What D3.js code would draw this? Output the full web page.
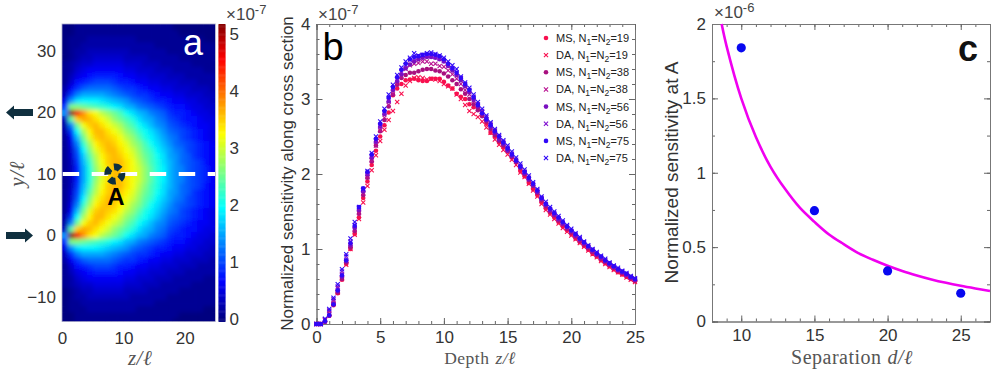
<!DOCTYPE html>
<html>
<head>
<meta charset="utf-8">
<script src="https://cdnjs.cloudflare.com/ajax/libs/d3/7.8.5/d3.min.js"></script>
<style>
  html, body { margin: 0; padding: 0; background: #fff; }
  text { font-family: "Liberation Sans", Arial, sans-serif; fill: #333; }
  .serif { font-family: "Liberation Serif", "DejaVu Serif", serif; fill: #555; }
  .tick text { font-size: 17px; }
  .domain { stroke: #777; }
  .tick line { stroke: #666; }
</style>
</head>
<body>
<div id="chart"></div>
<script type="text/javascript">
  const width = 997, height = 372;

  // panel a: sensitivity map, unit 1e-8, rows go outward from y=10, mirrored below
  const mapZ = [0.5,1.5,2.5,3.5,4.5,5.5,6.5,7.5,8.5,9.5,10.5,11.5,12.5,13.5,14.5,15.5,16.5,17.5,18.5,19.5,20.5,21.5,22.5,23.5,24.5];
  const mapRows = [
    [1,3,8,15,21,26,31,34,36,36,34,32,30,27,24,21,19,16,14,13,11,10,9,8,6],
    [1,3,8,15,21,27,31,34,36,36,34,32,30,27,24,21,19,16,14,13,11,10,9,8,6],
    [1,3,9,16,22,28,32,35,36,36,34,32,29,26,23,21,18,16,14,12,11,10,9,7,6],
    [1,4,10,17,24,29,33,35,36,35,33,31,28,25,23,20,18,15,14,12,11,9,8,7,6],
    [1,4,11,19,26,31,34,36,36,34,32,30,27,24,22,19,17,15,13,12,10,9,8,7,6],
    [1,5,13,22,28,33,35,36,35,33,31,28,26,23,20,18,16,14,12,11,10,9,8,7,6],
    [1,6,16,25,31,35,36,35,34,32,29,27,24,21,19,17,15,13,12,10,9,8,7,6,5],
    [2,9,20,28,33,36,36,34,32,30,27,25,22,20,18,16,14,12,11,10,9,8,7,6,5],
    [2,13,25,32,35,36,34,32,30,28,25,23,20,18,16,14,13,11,10,9,8,7,6,6,5],
    [3,24,35,37,36,34,32,30,27,25,23,21,18,16,15,13,12,10,9,8,7,7,6,5,5],
    [14,62,46,38,34,32,29,27,25,23,20,18,16,15,13,12,11,9,8,8,7,6,5,5,4],
    [9,26,26,25,24,23,22,21,19,18,16,15,13,12,11,10,9,8,7,7,6,5,5,4,4],
    [5,14,18,19,19,19,18,17,16,15,14,12,11,10,9,8,8,7,6,6,5,5,4,4,3],
    [3,9,13,15,15,15,15,14,13,12,11,10,9,9,8,7,6,6,5,5,4,4,4,3,3],
    [2,6,9,11,12,12,12,12,11,10,9,9,8,7,6,6,5,5,4,4,4,3,3,3,2],
    [1,4,7,8,9,10,10,10,9,8,8,7,6,6,5,5,4,4,4,3,3,3,2,2,2],
    [1,3,5,6,7,8,8,8,8,7,6,6,5,5,4,4,4,3,3,3,2,2,2,2,2],
    [1,2,4,5,6,6,6,6,6,6,5,5,4,4,4,3,3,3,2,2,2,2,2,1,1],
    [1,2,3,4,4,5,5,5,5,5,4,4,4,3,3,3,2,2,2,2,2,1,1,1,1],
    [0,1,2,3,3,4,4,4,4,4,3,3,3,3,2,2,2,2,2,1,1,1,1,1,1],
    [0,1,2,2,3,3,3,3,3,3,3,2,2,2,2,2,2,1,1,1,1,1,1,1,1],
    [0,1,1,2,2,2,2,2,2,2,2,2,2,2,2,1,1,1,1,1,1,1,1,1,1],
    [0,1,1,1,2,2,2,2,2,2,2,2,1,1,1,1,1,1,1,1,1,1,1,0,0],
    [0,0,1,1,1,1,1,1,1,1,1,1,1,1,1,1,1,1,1,0,0,0,0,0,0],
    [0,0,1,1,1,1,1,1,1,1,1,1,1,1,1,1,1,1,0,0,0,0,0,0,0]
  ];
  const jetStops = [0, 0.65, 1.95, 3.25, 4.55, 5.2];
  const jetColors = ['#000080', '#0000ff', '#00ffff', '#ffff00', '#ff0000', '#800000'];
  const colorbarTicks = [0, 1, 2, 3, 4, 5];

  // panel b: one value every 1/3 in depth, unit 1e-7
  const ms19 = [0,0,.03,.11,.25,.41,.59,.8,1,1.2,1.42,1.68,1.9,2.12,2.31,2.5,2.65,2.82,3.05,3.14,3.2,3.25,3.26,3.27,3.25,3.24,3.24,3.27,3.27,3.27,3.23,3.18,3.14,3.07,3.03,3,2.93,2.89,2.88,2.81,2.67,2.55,2.5,2.42,2.36,2.3,2.22,2.16,2.04,1.97,1.88,1.8,1.72,1.62,1.54,1.48,1.42,1.36,1.3,1.25,1.2,1.14,1.09,1.04,.99,.94,.9,.85,.81,.77,.73,.69,.66,.63,.6,.57];
  const da19 = [0,0,.05,.14,.27,.42,.6,.79,1,1.19,1.4,1.62,1.84,2.05,2.25,2.44,2.59,2.72,2.84,2.96,3.07,3.18,3.24,3.28,3.29,3.28,3.26,3.27,3.26,3.24,3.2,3.17,3.14,3.06,3,2.92,2.84,2.8,2.76,2.7,2.62,2.55,2.46,2.39,2.32,2.26,2.19,2.12,2.02,1.96,1.87,1.78,1.7,1.6,1.52,1.46,1.4,1.34,1.28,1.23,1.18,1.13,1.08,1.03,.98,.93,.89,.84,.8,.76,.72,.69,.66,.62,.59,.56];
  const ms38 = [0,0,.03,.11,.26,.42,.6,.82,1.02,1.24,1.47,1.72,1.95,2.17,2.38,2.57,2.72,2.9,3.06,3.19,3.28,3.32,3.35,3.35,3.37,3.39,3.4,3.4,3.38,3.37,3.34,3.3,3.25,3.2,3.13,3.07,3,2.93,2.85,2.77,2.7,2.6,2.52,2.44,2.38,2.32,2.23,2.16,2.08,2,1.92,1.84,1.75,1.65,1.57,1.5,1.45,1.38,1.33,1.27,1.22,1.17,1.11,1.06,1.01,.96,.92,.87,.83,.79,.75,.71,.68,.65,.61,.58];
  const da38 = [0,0,.06,.17,.31,.48,.66,.84,1.05,1.26,1.48,1.74,1.96,2.18,2.38,2.58,2.75,2.92,3.07,3.2,3.3,3.4,3.45,3.47,3.48,3.5,3.5,3.47,3.47,3.44,3.43,3.38,3.33,3.27,3.2,3.12,3.06,2.98,2.9,2.82,2.73,2.65,2.57,2.48,2.41,2.33,2.25,2.17,2.09,2.02,1.93,1.85,1.76,1.66,1.58,1.51,1.45,1.39,1.33,1.28,1.23,1.17,1.12,1.07,1.02,.97,.92,.88,.83,.79,.75,.72,.68,.65,.62,.59];
  const ms56 = [0,0,.03,.11,.27,.44,.63,.84,1.05,1.28,1.52,1.77,2,2.22,2.43,2.63,2.8,2.97,3.12,3.24,3.33,3.41,3.46,3.5,3.53,3.55,3.56,3.56,3.55,3.53,3.5,3.44,3.38,3.32,3.25,3.17,3.09,2.99,2.9,2.81,2.72,2.63,2.55,2.46,2.4,2.31,2.24,2.17,2.09,2.01,1.93,1.85,1.76,1.67,1.59,1.52,1.46,1.4,1.34,1.29,1.24,1.18,1.13,1.08,1.03,.98,.93,.89,.84,.8,.76,.72,.69,.66,.62,.59];
  const da56 = [0,0,.06,.18,.33,.5,.7,.9,1.1,1.32,1.54,1.78,2,2.23,2.44,2.64,2.82,2.98,3.14,3.26,3.36,3.45,3.52,3.54,3.57,3.58,3.58,3.57,3.56,3.54,3.51,3.45,3.41,3.35,3.28,3.2,3.12,3.03,2.93,2.84,2.76,2.67,2.58,2.5,2.43,2.35,2.27,2.19,2.11,2.03,1.95,1.87,1.78,1.68,1.6,1.53,1.47,1.41,1.35,1.3,1.24,1.19,1.14,1.09,1.03,.99,.94,.89,.85,.81,.77,.73,.7,.66,.63,.6];
  const ms75 = [0,0,.04,.12,.26,.45,.65,.85,1.08,1.31,1.56,1.81,2.03,2.26,2.47,2.67,2.84,3.02,3.16,3.29,3.39,3.47,3.53,3.56,3.57,3.59,3.6,3.6,3.59,3.57,3.53,3.47,3.41,3.35,3.28,3.2,3.12,3.02,2.92,2.81,2.73,2.65,2.57,2.5,2.42,2.34,2.26,2.18,2.1,2.03,1.95,1.87,1.78,1.68,1.6,1.54,1.48,1.42,1.36,1.3,1.25,1.2,1.14,1.09,1.04,.99,.94,.9,.85,.81,.77,.73,.7,.67,.63,.6];
  const da75 = [0,0,.07,.2,.35,.53,.73,.93,1.14,1.36,1.56,1.8,2.04,2.28,2.5,2.7,2.87,3.06,3.19,3.32,3.42,3.5,3.55,3.61,3.58,3.59,3.61,3.62,3.6,3.58,3.55,3.5,3.45,3.4,3.3,3.22,3.15,3.06,2.96,2.87,2.78,2.69,2.6,2.52,2.45,2.38,2.3,2.22,2.14,2.06,1.98,1.89,1.8,1.7,1.63,1.56,1.5,1.44,1.38,1.32,1.27,1.21,1.16,1.1,1.05,1,.96,.91,.87,.82,.78,.75,.71,.68,.64,.61];
  const seriesNames = ['MS', 'DA', 'MS', 'DA', 'MS', 'DA', 'MS', 'DA'];
  const seriesN = [19, 19, 38, 38, 56, 56, 75, 75];
  const seriesValues = [ms19, da19, ms38, da38, ms56, da56, ms75, da75];
  const seriesColors = ['#f8104f', '#f8104f', '#a8107f', '#b81090', '#7a10c0', '#8010d0', '#3008f8', '#3008f8'];

  // panel c, unit 1e-6
  const pointD = [10, 15, 20, 25];
  const pointS = [1.84, 0.745, 0.34, 0.19];
  const curveD = [8.66,9,10,11,12,13,14,15,16,17,18,19,20,21,22,23,24,25,26,27];
  const curveS = [2,1.85,1.5,1.24,1.04,.89,.765,.67,.585,.52,.46,.415,.375,.34,.31,.283,.26,.24,.222,.205];

  const svg = d3.select('#chart').append('svg')
    .attr('width', width)
    .attr('height', height);

  const defs = svg.append('defs');
  defs.append('filter').attr('id', 'smooth')
    .attr('x', '-5%').attr('y', '-5%').attr('width', '110%').attr('height', '110%')
    .append('feGaussianBlur').attr('stdDeviation', 2.3);
  defs.append('clipPath').attr('id', 'clip_a').append('rect')
    .attr('x', 62).attr('y', 24).attr('width', 153).attr('height', 297.5);

  // draws the inward ticks of a boxed panel
  function box(x, y, xMajor, xMinor, yMajor, yMinor, yFormat) {
    const [x0, x1] = x.range(), [y0, y1] = y.range();
    const g = svg.append('g');
    g.append('g').attr('transform', `translate(0,${y0})`)
      .call(d3.axisBottom(x).tickValues(xMinor).tickSize(-3).tickFormat(''));
    g.append('g').attr('transform', `translate(0,${y1})`)
      .call(d3.axisTop(x).tickValues(xMinor).tickSize(-3).tickFormat(''));
    g.append('g').attr('transform', `translate(${x0},0)`)
      .call(d3.axisLeft(y).tickValues(yMinor).tickSize(-3).tickFormat(''));
    g.append('g').attr('transform', `translate(${x1},0)`)
      .call(d3.axisRight(y).tickValues(yMinor).tickSize(-3).tickFormat(''));
    g.append('g').attr('transform', `translate(0,${y0})`)
      .call(d3.axisBottom(x).tickValues(xMajor).tickSize(-6).tickPadding(7).tickFormat(d3.format('d')));
    g.append('g').attr('transform', `translate(${x0},0)`)
      .call(d3.axisLeft(y).tickValues(yMajor).tickSize(-6).tickPadding(6).tickFormat(yFormat));
    g.append('g').attr('transform', `translate(${x1},0)`)
      .call(d3.axisRight(y).tickValues(yMajor).tickSize(-6).tickFormat(''));
    g.append('g').attr('transform', `translate(0,${y1})`)
      .call(d3.axisTop(x).tickValues(xMajor).tickSize(-6).tickFormat(''));
    g.selectAll('.tick line').attr('stroke', '#666');
    return g;
  }

  function power(px, py, exp) {
    const t = svg.append('text').attr('x', px).attr('y', py).style('font-size', '17px').style('fill', '#444');
    t.append('tspan').text('\u00d710');
    t.append('tspan').attr('dy', -6).style('font-size', '13px').text(exp);
  }

  // z/ℓ style labels
  function mathLabel(px, py, plain, v, size, rotate) {
    const t = svg.append('text').attr('class', 'serif')
      .attr('text-anchor', 'middle').style('font-size', size + 'px').style('letter-spacing', '0.5px')
      .attr('transform', `translate(${px},${py})` + (rotate ? ' rotate(-90)' : ''));
    if (plain) t.append('tspan').text(plain);
    t.append('tspan').style('font-style', 'italic').attr('dx', plain ? 6 : 0).text(v + '/\u2113');
  }

  ////////////// panel a //////////////
  const xa = d3.scaleLinear().domain([0, 25]).range([62, 215.5]);
  const ya = d3.scaleLinear().domain([-14, 34.4]).range([321.5, 24]);
  const jet = d3.scaleLinear().domain(jetStops).range(jetColors).clamp(true);

  const cells = [];
  mapRows.forEach(function(row, d) {
    row.forEach(function(v, i) {
      cells.push({z: mapZ[i], y: 10 + d, v: v / 10});
      if (d > 0) cells.push({z: mapZ[i], y: 10 - d, v: v / 10});
    });
  });

  const map = svg.append('g').attr('clip-path', 'url(#clip_a)');
  [map.append('g'), map.append('g').attr('filter', 'url(#smooth)')].forEach(function(layer) {
    layer.selectAll('rect').data(cells).enter().append('rect')
      .attr('x', d => xa(d.z - 0.5))
      .attr('y', d => ya(d.y + 0.5))
      .attr('width', xa(1) - xa(0) + 0.5)
      .attr('height', ya(0) - ya(1) + 0.5)
      .attr('fill', d => jet(d.v));
  });

  svg.append('line')
    .attr('x1', xa(0) + 0.7).attr('x2', xa(25)).attr('y1', ya(10)).attr('y2', ya(10))
    .attr('stroke', '#fff').attr('stroke-width', 4).attr('stroke-dasharray', '16.5 12.5');

  svg.append('rect').attr('x', 62).attr('y', 24).attr('width', 153.5).attr('height', 297.5)
    .attr('fill', 'none').attr('stroke', '#a8a8c8').attr('stroke-width', 0.8);

  const blade = d3.arc().innerRadius(3.8).outerRadius(10.5);
  svg.append('g').attr('transform', `translate(${xa(8.6)},${ya(10)})`)
    .selectAll('path').data([-68, 20, 110, 200]).enter().append('path')
    .attr('d', d => blade({startAngle: (d - 27) * Math.PI / 180, endAngle: (d + 27) * Math.PI / 180}))
    .attr('fill', '#10303f');

  svg.append('text').attr('x', xa(8.8)).attr('y', 205).attr('text-anchor', 'middle')
    .style('font-size', '24px').style('fill', '#000').style('font-weight', 'bold').text('A');
  svg.append('text').attr('x', 193).attr('y', 55).attr('text-anchor', 'middle')
    .style('font-size', '36px').style('fill', '#fff').text('a');

  const axisA = svg.append('g');
  axisA.append('g').attr('transform', 'translate(62,0)')
    .call(d3.axisLeft(ya).tickValues([-10, 0, 10, 20, 30]).tickSize(0).tickPadding(6));
  axisA.append('g').attr('transform', 'translate(0,321.5)')
    .call(d3.axisBottom(xa).tickValues([0, 10, 20]).tickSize(0).tickPadding(10));
  axisA.selectAll('.domain').remove();
  mathLabel(24, ya(10), '', 'y', 21, true);
  mathLabel(140, 365, '', 'z', 21, false);

  // side arrows at the two fibre positions
  const arrowShape = d3.line();
  [[20, -1], [0, 1]].forEach(function(a) {
    const py = ya(a[0]), tip = a[1] > 0 ? 33 : 6, tail = a[1] > 0 ? 6 : 33, neck = tip - a[1] * 8;
    svg.append('path').attr('fill', '#10303f').attr('d', arrowShape([
      [tail, py - 3.5], [neck, py - 3.5], [neck, py - 7], [tip, py],
      [neck, py + 7], [neck, py + 3.5], [tail, py + 3.5]
    ]) + 'Z');
  });

  // colorbar
  const ybar = d3.scaleLinear().domain([-0.04, 5.18]).range([321.5, 24]);
  svg.append('g').selectAll('rect').data(d3.range(-0.04, 5.18, 0.02)).enter().append('rect')
    .attr('x', 218.5).attr('width', 7)
    .attr('y', d => ybar(d + 0.02)).attr('height', 1.6)
    .attr('fill', d => jet(d));
  const barAxis = svg.append('g').attr('transform', 'translate(225.5,0)')
    .call(d3.axisRight(ybar).tickValues(colorbarTicks).tickSize(0).tickPadding(4).tickFormat(d3.format('d')));
  barAxis.select('.domain').remove();
  power(226, 20, '-7');

  ////////////// panel b //////////////
  const xb = d3.scaleLinear().domain([0, 25]).range([316.5, 635]);
  const yb = d3.scaleLinear().domain([0, 4]).range([324, 24]);
  const depth = d3.range(76).map(i => i / 3);
  box(xb, yb, [0, 5, 10, 15, 20, 25], d3.range(0, 26), [0, 1, 2, 3, 4], d3.range(0, 4.01, 0.2), d3.format('d'));

  const cross = d3.symbol().type(d3.symbolX).size(13);
  seriesValues.forEach(function(values, s) {
    const g = svg.append('g');
    if (seriesNames[s] == 'MS') {
      g.selectAll('circle').data(values).enter().append('circle')
        .attr('cx', (d, i) => xb(depth[i])).attr('cy', d => yb(d))
        .attr('r', 2.3).attr('fill', seriesColors[s]);
    } else {
      g.selectAll('path').data(values).enter().append('path')
        .attr('d', cross)
        .attr('transform', (d, i) => `translate(${xb(depth[i])},${yb(d)})`)
        .attr('fill', 'none').attr('stroke', seriesColors[s]).attr('stroke-width', 1.1);
    }
  });

  // legend
  seriesNames.forEach(function(name, s) {
    const py = 38 + s * 17.15;
    if (name == 'MS') {
      svg.append('circle').attr('cx', 546).attr('cy', py).attr('r', 2.3).attr('fill', seriesColors[s]);
    } else {
      svg.append('path').attr('d', cross).attr('transform', `translate(546,${py})`)
        .attr('fill', 'none').attr('stroke', seriesColors[s]).attr('stroke-width', 1.1);
    }
    const t = svg.append('text').attr('x', 556).attr('y', py + 4).style('font-size', '11px').style('fill', '#222');
    t.append('tspan').text(name + ', N');
    t.append('tspan').attr('dy', 3).style('font-size', '8.5px').text('1');
    t.append('tspan').attr('dy', -3).text('=N');
    t.append('tspan').attr('dy', 3).style('font-size', '8.5px').text('2');
    t.append('tspan').attr('dy', -3).text('=' + seriesN[s]);
  });

  svg.append('text').attr('x', 333).attr('y', 60).attr('text-anchor', 'middle')
    .style('font-size', '38px').style('fill', '#000').text('b');
  svg.append('text').attr('text-anchor', 'middle').style('font-size', '17px').style('fill', '#333')
    .attr('transform', 'translate(293,173.5) rotate(-90)')
    .text('Normalized sensitivity along cross section');
  mathLabel(480, 364, 'Depth', 'z', 17.5, false);
  power(318, 20, '-7');

  ////////////// panel c //////////////
  const xc = d3.scaleLinear().domain([8, 27]).range([712, 990]);
  const yc = d3.scaleLinear().domain([0, 2]).range([321.5, 24]);
  box(xc, yc, [10, 15, 20, 25], d3.range(8, 28), [0, 0.5, 1, 1.5, 2], d3.range(0, 2.01, 0.25), d3.format('~g'));

  svg.append('path').datum(curveD)
    .attr('d', d3.line().x(d => xc(d)).y((d, i) => yc(curveS[i])).curve(d3.curveCatmullRom))
    .attr('fill', 'none').attr('stroke', '#f000f0').attr('stroke-width', 2.6);

  svg.append('g').selectAll('circle').data(pointD).enter().append('circle')
    .attr('cx', d => xc(d)).attr('cy', (d, i) => yc(pointS[i]))
    .attr('r', 4.6).attr('fill', '#0808f0');

  svg.append('text').attr('x', 968).attr('y', 61).attr('text-anchor', 'middle')
    .style('font-size', '36px').style('font-weight', 'bold').style('fill', '#111').text('c');
  svg.append('text').attr('text-anchor', 'middle').style('font-size', '19px').style('fill', '#333')
    .attr('transform', 'translate(678,172.5) rotate(-90)')
    .text('Normalized sensitivity at A');
  mathLabel(852, 364, 'Separation', 'd', 20, false);
  power(714, 18, '-6');
</script>
</body>
</html>
